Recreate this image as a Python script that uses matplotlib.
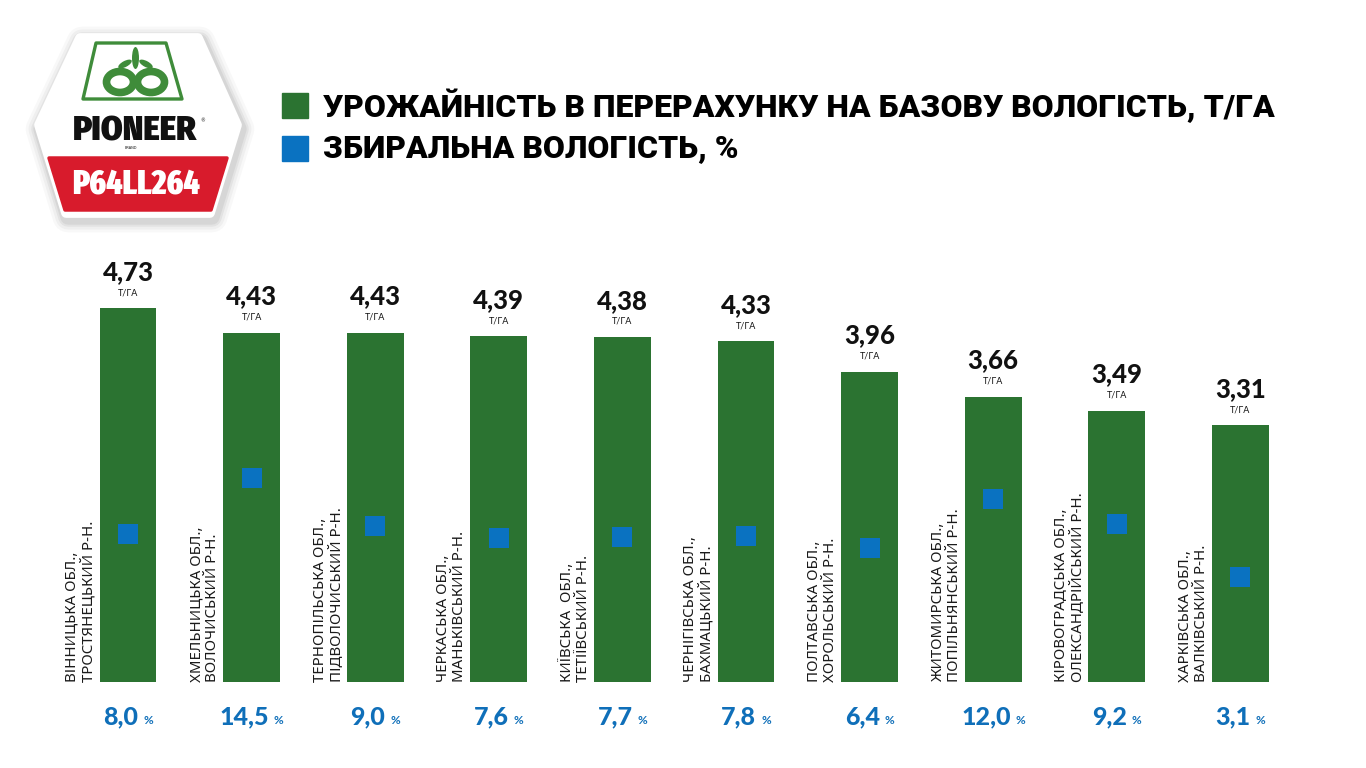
import matplotlib
matplotlib.use("Agg")
import matplotlib.pyplot as plt
from matplotlib.patches import Polygon, Rectangle, Ellipse
from matplotlib import transforms
from matplotlib import font_manager as fm
from matplotlib.textpath import TextPath
from matplotlib.ft2font import FT2Font
import numpy as np

# ---------------- data ----------------
regions_line1 = ["ВІННИЦЬКА ОБЛ.,", "ХМЕЛЬНИЦЬКА ОБЛ.,", "ТЕРНОПІЛЬСЬКА ОБЛ.,",
                 "ЧЕРКАСЬКА ОБЛ.,", "КИЇВСЬКА  ОБЛ.,", "ЧЕРНІГІВСЬКА ОБЛ.,",
                 "ПОЛТАВСЬКА ОБЛ.,", "ЖИТОМИРСЬКА ОБЛ.,", "КІРОВОГРАДСЬКА ОБЛ.,",
                 "ХАРКІВСЬКА ОБЛ.,"]
regions_line2 = ["ТРОСТЯНЕЦЬКИЙ Р-Н.", "ВОЛОЧИСЬКИЙ Р-Н.", "ПІДВОЛОЧИСЬКИЙ Р-Н.",
                 "МАНЬКІВСЬКИЙ Р-Н.", "ТЕТІЇВСЬКИЙ Р-Н.", "БАХМАЦЬКИЙ Р-Н.",
                 "ХОРОЛЬСЬКИЙ Р-Н.", "ПОПІЛЬНЯНСЬКИЙ Р-Н.", "ОЛЕКСАНДРІЙСЬКИЙ Р-Н.",
                 "ВАЛКІВСЬКИЙ Р-Н."]
yield_t_ha = [4.73, 4.43, 4.43, 4.39, 4.38, 4.33, 3.96, 3.66, 3.49, 3.31]
moisture_pct = [8.0, 14.5, 9.0, 7.6, 7.7, 7.8, 6.4, 12.0, 9.2, 3.1]
legend_labels = ["УРОЖАЙНІСТЬ В ПЕРЕРАХУНКУ НА БАЗОВУ ВОЛОГІСТЬ, Т/ГА",
                 "ЗБИРАЛЬНА ВОЛОГІСТЬ, %"]
unit_yield = "Т/ГА"
unit_moist = "%"
brand = "PIONEER"
hybrid = "P64LL264"

GREEN = "#2b7331"
BLUE = "#0a72c1"
BLUE_TXT = "#0f6fb9"
RED = "#d81b2c"
LOGO_GREEN = "#3f8c3a"


# ---------- choose an installed bold font whose proportions fit a target ----------
def _weight_val(w):
    if isinstance(w, (int, float)):
        return w
    return {"bold": 700, "heavy": 800, "black": 900, "extra bold": 800,
            "semibold": 600, "demibold": 600}.get(str(w), 400)


_pool = []
_seen = set()
for f in fm.fontManager.ttflist:
    if f.fname in _seen or f.style != "normal":
        continue
    _seen.add(f.fname)
    nm = f.name.lower()
    if "mono" in nm or ("serif" in nm and "sans" not in nm) or "cjk" in nm:
        continue
    wv = _weight_val(f.weight)
    if wv < 700:
        continue
    try:
        ft = FT2Font(f.fname)
        if ft.get_char_index(ord("Ж")) == 0:
            continue
    except Exception:
        continue
    _pool.append((f.fname, wv))


def pick_font(sample, cap_px, width_px, tol=0.08):
    target = cap_px / width_px
    scored = []
    for fn, wv in _pool:
        try:
            fp = fm.FontProperties(fname=fn)
            cap = TextPath((0, 0), "Н", prop=fp, size=100).get_extents().height
            wid = TextPath((0, 0), sample, prop=fp, size=100).get_extents().width
        except Exception:
            continue
        if wid <= 0:
            continue
        scored.append((abs(np.log((cap / wid) / target)), wv, fn))
    if not scored:
        return fm.FontProperties(family="DejaVu Sans", weight="bold")
    dmin = min(s[0] for s in scored)
    near = [s for s in scored if s[0] <= dmin + tol]
    near.sort(key=lambda s: (-s[1], s[0]))
    return fm.FontProperties(fname=near[0][2])


LEG_FP = pick_font(legend_labels[0], 23, 947)
PIO_FP = pick_font(brand, 24, 124)
HYB_FP = pick_font(hybrid, 23, 128)

W, H = 1366, 768
fig = plt.figure(figsize=(W / 100, H / 100), dpi=100)

bg = fig.add_axes([0, 0, 1, 1])
bg.set_xlim(0, W)
bg.set_ylim(H, 0)
bg.axis("off")

# ---------------- main chart ----------------
n = len(yield_t_ha)
x = np.arange(n)
left_px, bottom_px, width_px, height_px = 66.2, 682, 1236, 432
ax = fig.add_axes([left_px / W, (H - bottom_px) / H, width_px / W, height_px / H])
ax.patch.set_alpha(0)
ax.set_xlim(-0.5, n - 0.5)
ax.set_ylim(0.2, 5.436)
ax.axis("off")
bar_w = 0.459
ax.bar(x, yield_t_ha, width=bar_w, color=GREEN, zorder=2)

ax2 = ax.twinx()
ax2.set_ylim(-9.03, 40.74)
ax2.axis("off")
ax2.plot(x, moisture_pct, linestyle="none", marker="s", markersize=13.7,
         markerfacecolor=BLUE, markeredgecolor=BLUE, markeredgewidth=0, zorder=5)

for xi, v in zip(x, yield_t_ha):
    ax.annotate(f"{v:.2f}".replace(".", ","), (xi, v), xytext=(0, 26.3),
                textcoords="offset points", ha="center", va="center",
                fontsize=18.5, fontweight="black", family="Lato", color="#111111")
    ax.annotate(unit_yield, (xi, v), xytext=(0, 11.3), textcoords="offset points",
                ha="center", va="center", fontsize=6.5, family="Lato", color="#111111")

lab_tr = transforms.blended_transform_factory(ax.transData, bg.transData)
for xi, l1, l2 in zip(x, regions_line1, regions_line2):
    ax.annotate(l1 + "\n" + l2, (xi - bar_w / 2, 682), xycoords=lab_tr,
                xytext=(-3, 0), textcoords="offset pixels",
                rotation=90, ha="right", va="bottom", multialignment="left",
                fontsize=10.8, family="Noto Sans", fontweight="medium",
                color="#1a1a1a", linespacing=1.1)

fig.canvas.draw()
renderer = fig.canvas.get_renderer()
for xi, m in zip(x, moisture_pct):
    num = bg.text(0, 0, f"{m:.1f}".replace(".", ","), fontsize=18,
                  fontweight="black", family="Lato", color=BLUE_TXT,
                  ha="left", va="baseline")
    pct = bg.text(0, 0, unit_moist, fontsize=8.5, fontweight="bold",
                  family="Lato", color=BLUE_TXT, ha="left", va="baseline")
    wn = num.get_window_extent(renderer).width
    wp = pct.get_window_extent(renderer).width
    gap = 5
    total = wn + gap + wp
    cx = ax.transData.transform((xi, 0))[0]
    x0 = cx - total / 2
    num.set_position((x0, 724))
    pct.set_position((x0 + wn + gap, 724))


def fit_text(t, target_w):
    w = t.get_window_extent(renderer).width
    if w > 0:
        t.set_fontsize(t.get_fontsize() * target_w / w)


# ---------------- legend ----------------
bg.add_patch(Rectangle((282, 93), 26, 24.5, color=GREEN))
bg.add_patch(Rectangle((282, 136), 26, 24.5, color=BLUE))
leg1 = bg.text(323, 106, legend_labels[0], fontproperties=LEG_FP, fontsize=22,
               va="center", ha="left", color="#000000")
leg2 = bg.text(323, 148, legend_labels[1], fontproperties=LEG_FP, fontsize=22,
               va="center", ha="left", color="#000000")
fit_text(leg1, 947)
fit_text(leg2, 414)

# ---------------- logo ----------------
hexa = [(80, 38), (198, 38), (237, 125), (210, 213), (66, 213), (39, 125)]
for lw, a in [(22, 0.05), (18, 0.07), (14, 0.10), (11, 0.12)]:
    bg.add_patch(Polygon([(px + 2, py + 4) for px, py in hexa], closed=True,
                         facecolor="#7a7a7a", edgecolor="#7a7a7a", alpha=a,
                         linewidth=lw, joinstyle="round"))
bg.add_patch(Polygon(hexa, closed=True, facecolor="white", edgecolor="white",
                     linewidth=7, joinstyle="round"))
bg.add_patch(Polygon([(49, 158), (227, 158), (211, 210), (65, 210)], closed=True,
                     facecolor=RED, edgecolor=RED, linewidth=2.5, joinstyle="round"))
bg.add_patch(Polygon([(96, 43), (166, 43), (182, 99), (83, 99)], closed=True,
                     facecolor="white", edgecolor=LOGO_GREEN, linewidth=2.4,
                     joinstyle="round"))
bg.add_patch(Ellipse((120, 82), 27, 21, facecolor="none", edgecolor=LOGO_GREEN,
                     linewidth=5.5))
bg.add_patch(Ellipse((151, 82), 27, 21, facecolor="none", edgecolor=LOGO_GREEN,
                     linewidth=5.5))
bg.add_patch(Ellipse((135.5, 58), 7, 22, facecolor=LOGO_GREEN, edgecolor="none"))
bg.add_patch(Ellipse((125, 64), 15, 6, angle=-28, facecolor=LOGO_GREEN,
                     edgecolor="none"))
bg.add_patch(Ellipse((146, 64), 15, 6, angle=28, facecolor=LOGO_GREEN,
                     edgecolor="none"))
pio = bg.text(73, 131, brand, fontproperties=PIO_FP, fontsize=24,
              ha="left", va="center", color="#111111")
fit_text(pio, 124)
bg.text(200, 121, "®", fontsize=3.5, ha="left", va="center", color="#111111")
bg.text(131, 148, "BRAND", fontsize=2.5, ha="center", va="center", color="#111111")
hyb = bg.text(72, 184.5, hybrid, fontproperties=HYB_FP, fontsize=21,
              ha="left", va="center", color="white")
fit_text(hyb, 128)

fig.savefig("out.png", dpi=100)
